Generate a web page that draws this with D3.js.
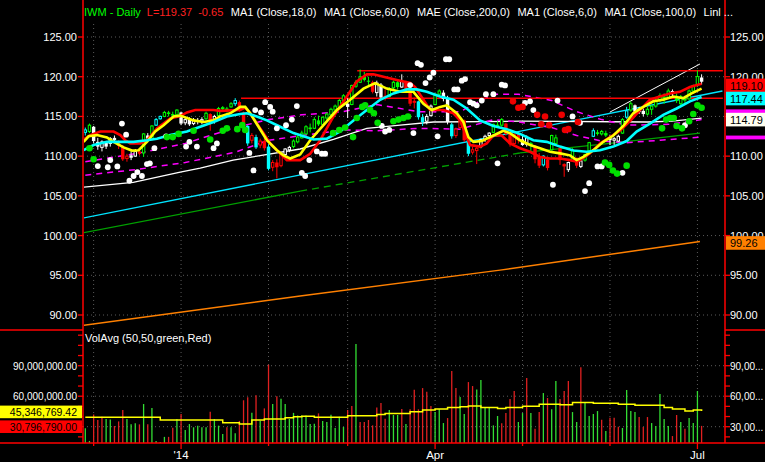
<!DOCTYPE html>
<html>
<head>
<meta charset="utf-8">
<script src="https://cdn.jsdelivr.net/npm/d3@7"></script>
<style>
html, body { margin: 0; padding: 0; background: #000; }
svg { display: block; font-family: "Liberation Sans", Arial, sans-serif; }
</style>
</head>
<body>
<svg id="chart" width="765" height="462"></svg>
<script>
// IWM daily, 27 Nov 2013 .. 2 Jul 2014 (bar index 0..148)
const opens = [
  113.0,113.1,113.7,111.8,111.1,111.7,111.6,112.3,111.9,111.2,
  109.7,110.1,110.0,110.6,110.4,112.6,112.1,113.9,114.7,115.0,
  115.5,115.3,115.2,115.5,114.2,114.6,114.1,114.5,114.4,114.7,
  115.3,114.4,115.1,116.0,116.0,116.2,116.6,116.8,115.5,113.8,
  112.0,112.4,111.4,111.9,111.2,108.6,109.2,108.8,110.2,110.8,
  111.2,111.8,112.3,112.8,113.6,113.5,114.5,114.0,114.8,115.2,
  115.8,116.2,117.0,116.6,116.5,118.8,119.3,120.0,119.5,119.3,
  118.0,119.0,117.6,117.5,118.6,119.3,118.7,119.4,118.3,116.8,
  116.9,114.9,114.4,115.1,116.5,117.8,118.0,117.3,114.0,112.6,
  113.6,114.5,112.0,110.5,110.7,111.2,112.1,112.6,113.0,113.9,
  113.9,114.1,112.8,111.6,112.8,112.1,111.5,111.4,111.3,109.9,
  108.9,109.6,110.8,111.6,111.0,109.0,108.3,109.5,109.8,108.7,
  109.5,110.6,112.5,113.0,112.8,112.9,112.3,112.0,111.9,112.9,
  114.9,115.8,116.4,115.6,115.7,115.3,115.9,116.3,117.0,117.5,
  117.3,118.2,117.6,116.6,117.3,117.2,118.2,119.0,119.9
]
const highs = [
  113.6,114.1,113.8,112.3,112.0,111.9,112.4,112.6,112.0,111.4,
  110.3,110.6,110.9,110.9,112.9,112.9,113.9,114.8,115.1,115.7,
  115.7,115.6,115.9,115.6,114.9,114.9,114.8,114.8,114.9,115.6,
  115.4,115.2,116.2,116.3,116.2,116.8,117.3,117.0,115.6,113.9,
  112.9,112.7,112.2,112.3,111.5,109.5,109.6,110.3,111.0,111.3,
  112.1,112.6,113.2,113.9,114.1,114.9,115.1,115.0,115.5,116.1,
  116.5,117.2,117.8,117.3,119.0,119.6,120.9,120.6,120.0,119.5,
  119.5,119.2,118.4,118.7,119.5,119.6,120.3,119.5,118.5,117.4,
  117.0,115.3,115.3,116.5,117.9,118.4,118.3,117.6,114.2,113.6,
  114.8,114.6,112.3,111.2,111.3,112.2,112.7,113.0,114.1,114.4,
  114.8,114.2,113.0,112.9,112.9,112.7,112.6,111.8,111.4,110.4,
  110.1,109.9,112.7,112.7,111.1,109.1,109.3,111.0,109.8,109.6,
  110.3,111.8,113.5,113.3,113.3,113.2,112.7,112.4,112.7,114.8,
  116.2,116.9,116.5,116.2,116.0,116.2,116.4,117.2,117.9,117.9,
  118.5,118.4,117.9,117.7,117.6,118.4,119.0,120.8,120.3
]
const lows = [
  112.6,112.9,111.6,110.8,110.6,110.9,111.2,111.8,110.9,109.4,
  109.3,109.5,109.9,110.1,109.9,111.9,112.0,113.8,114.6,114.9,
  115.0,114.9,115.0,113.9,113.9,113.8,113.9,114.0,114.0,114.6,
  113.2,114.1,115.0,115.6,115.5,116.1,116.3,115.6,113.4,111.3,
  111.6,110.9,111.0,110.7,108.2,108.1,107.2,108.6,110.0,110.5,
  111.0,111.6,112.2,112.7,113.0,113.4,113.8,113.9,114.5,115.0,
  115.6,116.0,116.6,114.8,116.4,118.6,119.2,119.4,118.9,117.9,
  117.5,117.2,117.0,117.4,118.3,118.4,118.6,118.2,116.3,116.0,
  114.6,113.8,114.0,115.0,116.4,117.5,116.9,114.0,112.2,112.3,
  113.4,111.8,110.0,110.2,109.0,111.0,111.8,112.2,112.9,113.6,
  113.7,112.6,111.2,111.5,111.6,111.3,111.2,110.6,109.1,108.5,
  108.7,108.2,110.7,111.4,108.9,107.4,108.0,109.4,108.5,108.5,
  109.3,110.5,112.4,112.6,112.6,112.4,111.4,111.4,111.8,112.8,
  114.7,115.6,115.2,115.3,115.0,115.1,115.2,116.1,116.8,116.6,
  117.2,117.5,116.7,116.2,116.6,117.1,117.9,118.7,119.0
]
const closes = [
  113.3,113.9,111.9,111.2,111.8,111.2,112.2,112.0,111.3,109.6,
  110.0,109.8,110.6,110.3,112.8,112.2,113.8,114.6,115.0,115.5,
  115.3,115.1,115.8,114.1,114.6,114.0,114.5,114.3,114.6,115.4,
  114.3,115.0,116.0,116.1,115.8,116.6,117.0,115.7,113.6,111.6,
  112.6,111.1,111.9,111.0,108.4,109.2,108.6,110.2,110.9,111.1,
  111.9,112.4,112.9,113.7,113.4,114.6,114.0,114.9,115.3,115.9,
  116.3,117.0,117.6,116.2,118.9,119.3,120.0,119.6,119.4,118.1,
  119.2,117.4,117.3,118.5,119.3,118.7,119.4,118.4,116.6,116.9,
  114.9,114.3,115.0,116.3,117.8,118.2,117.2,114.3,112.5,113.4,
  114.6,112.0,110.3,110.8,111.0,112.1,112.5,112.9,114.0,113.9,
  114.6,112.8,111.5,112.7,112.0,111.4,112.3,111.6,109.6,108.8,
  110.0,108.5,112.6,112.3,109.5,108.7,109.2,110.8,108.8,109.4,
  110.2,111.7,113.2,112.8,113.1,112.6,112.0,112.2,112.5,114.6,
  115.7,116.6,115.6,115.9,115.3,115.9,116.3,117.0,117.6,117.2,
  118.2,117.8,117.0,117.5,117.0,118.2,118.9,120.02,119.37
]
// G green, R red, W white, C cyan
const candleColors = "CGWWWWWWRR" + "RWWRGWGCCG" + "GGGWWWWWWG" + "RWGGGGCRRC" +
  "RCRRCRRRWW" + "GGGGGGGGGG" + "GGGWGGGGGR" + "WWRGGGWRRR" + "CCWWGGWWCR" +
  "RRCRRWWWGG" + "GRRRRWWGRR" + "CRGGRRWGRW" + "GGCGGGWWWG" + "CGWWWGGGGG" + "GWGGGGGGW"

// volume, millions of shares
const volumes = [
  28.4,16,42,36.6,39.8,37.5,37.2,30.7,35.2,46.4,
  37.5,32.3,33.3,32.3,52.3,32.3,48.4,16,15,20,
  20,29,37.5,42.5,26.7,32.6,29.4,31,29.4,29.4,
  44.6,37.5,31,22.9,29.4,29.4,23.6,35.7,56,59,
  43.6,61,35.9,48,91,52.3,60,57.4,52.3,37.5,
  43.6,41,41.1,41.1,32.6,33,43.1,35.6,34.6,41.8,
  28.7,39.8,29.7,46.4,50.3,111.3,34.6,34.6,36.6,31.3,
  49,53.3,37.9,46.4,41.5,41.5,47.4,32.6,47.1,66.4,
  47.1,68,64.4,50.3,44.4,47.4,33.6,38.5,84.8,68,
  59.2,42.5,73.9,70,66.7,75.9,49,49,31.3,40.5,
  33.3,43.4,57.2,65.1,34.6,43.4,77.9,43.4,28,44.4,
  63.1,58.2,47.1,74.9,57.2,65.1,74.9,44.4,34.6,88.4,
  54.3,40.5,42.5,45.4,36.9,25.7,38.9,38.9,30,28.7,
  66.1,45.4,44.4,39.5,29.7,39.5,33.6,30.7,62.1,37.5,
  30.7,20.8,41.5,34.6,28,38.5,33.6,65.1,30.79679
]
const volumeColors = "GGRRRGGRRR" + "GGGRGRGGGG" + "RRGRGGGGGG" + "RGGGRGGRRR" +
  "GRGRRGRGGG" + "GGGGGGRGGG" + "GGGRRGRRRR" + "RRRGGGRGRR" + "RRRRGGGRRR" +
  "GGRRGGGGGG" + "RRRRGGRGRR" + "GRGGRRRGGR" + "GGGGRGRRRG" + "GGGRRRGGGG" + "GRRGRGGGR"

// 50 day volume average, read as steps [bar, millions]
const volAvg = [[0,39.2],[18,36.6],[33,34],[37,32.6],[40,36.6],[43,37.5],[48,38.9],[50,39.8],
  [52,40.2],[55,39.2],[63,40.8],[70,42.1],[72,43.1],[78,44.8],[81,46.4],[84,47.4],[87,49],
  [90,49.7],[92,50.3],[95,49],[99,48],[101,49],[105,50],[109,52],[114,51.6],[117,53.9],
  [122,53],[128,52],[132,51],[139,49],[141,47.4],[144,45.4],[146,46.4],[148,45.35]]

// overlay lines, [bar, price]
const redMA = [[-0.4,112.1],[1.2,112.65],[3.6,113.1],[6.8,113.1],[8.4,112.65],[9.6,112.0],[10.8,111.6],
  [13.2,111.6],[14.8,112.0],[17.2,113.5],[20.4,114.75],[22.8,115.05],[24.4,115.5],[26.4,115.8],
  [30.8,115.8],[32.4,115.7],[37.2,115.8],[38.4,116.1],[39.6,115.4],[41.2,114.1],[42.8,112.9],
  [44.4,111.6],[46.8,110.35],[48.4,109.5],[51.6,109.5],[54,110.3],[56.4,112.0],[59.6,115.0],
  [62.8,117.5],[65.2,119.4],[67.6,120.3],[69.2,120.3],[71.6,120.0],[74.8,119.6],[78,119.2],
  [79.2,118.7],[81.2,117.1],[82.8,115.8],[86,115.8],[88.4,115.4],[90,114.5],[91.6,112.4],
  [92.4,111.4],[94.8,111.2],[96.4,111.6],[98,112.6],[100,112.6],[102,111.6],[104.4,111.0],
  [106.8,110.55],[109.2,109.9],[111.6,109.7],[114,109.7],[116.4,109.5],[118,109.3],[118.8,109.5],
  [121.2,110.35],[123.6,111.6],[126,112.4],[128.4,113.2],[130.8,114.4],[133.2,115.8],[135.6,117.1],
  [138,117.5],[140.4,117.9],[142.8,118.1],[145.2,118.7],[148,119.1]]
const yellowMA = [[-0.4,111.8],[0.8,112.5],[2.8,112.65],[5.2,112.35],[6.8,111.8],[9.2,111.1],[11.2,110.7],
  [12.8,110.75],[14.8,111.8],[16.8,113.1],[18.8,113.9],[21.2,115.0],[22.8,115.1],[26,114.5],
  [28.4,114.3],[30.8,114.5],[32.4,115.0],[34.8,115.4],[37.2,116.2],[38.4,116.2],[39.6,115.4],
  [41.6,113.7],[43.6,112.0],[46,110.75],[47.6,110.1],[49.2,109.7],[51.6,110.2],[54,112.0],
  [57.2,113.9],[60.4,115.8],[63.6,117.1],[66.8,118.5],[69.6,119.2],[72.4,118.5],[75.6,118.1],
  [78.8,118.1],[81.2,116.6],[83.2,115.8],[85.2,116.2],[86.8,116.4],[89.2,115.4],[90.8,114.3],
  [92,112.4],[93.2,111.8],[95.2,111.9],[98,112.6],[100.4,113.2],[102,112.9],[104.4,112.0],
  [106.8,111.4],[109.2,111.0],[111.6,110.55],[114,110.35],[116.4,110.1],[118,109.5],[119.6,109.9],
  [122,110.75],[124.4,111.8],[126.8,112.6],[129.2,113.8],[131.6,115.4],[134,116.2],[136.4,116.9],
  [138.8,117.1],[141.2,117.5],[143.6,117.3],[145.6,117.9],[148,118.5]]
const cyanMA = [[-0.4,110.75],[2,111.4],[5.2,111.8],[8.4,111.8],[11.6,111.8],[14.8,112.0],[17.2,112.2],
  [20.4,112.65],[24.4,113.1],[27.6,113.7],[30.8,114.3],[34,115.0],[37.2,115.3],[38.8,115.4],
  [41.2,115.0],[43.6,114.5],[46.8,113.7],[50,112.9],[54.8,112.1],[58,112.2],[61.2,113.1],
  [64.4,114.5],[67.6,115.8],[70.8,117.1],[74,117.9],[77.2,118.4],[79.6,118.4],[82,118.1],
  [85.2,117.5],[88.4,117.1],[91.6,116.0],[94.8,114.5],[98,113.8],[101.2,113.4],[104.4,112.8],
  [107.6,112.0],[110.8,111.8],[114,111.2],[117.2,110.7],[120.4,110.55],[123.6,110.75],[126.8,111.2],
  [130,111.9],[132.4,113.1],[135.6,114.1],[138.8,115.2],[142,116.0],[145.2,116.9],[148,117.44]]
const whiteMA = [[-0.5,106.1],[11.5,106.7],[22.8,108.0],[27.6,108.5],[35.5,109.5],[51.6,110.9],
  [59.6,112.1],[67.6,113.5],[75.6,113.9],[83.6,114.3],[104.4,114.4],[135,114.3],[141,114.4],[148,114.79]]
const greenMA = [[-0.5,100.35],[51.6,105.6],[104.4,110.4],[126,111.6],[147.6,112.9]]
const orangeMA = [[-0.5,88.7],[51.6,92.4],[99.6,95.65],[147.6,99.26]]
const regLine = [[-0.5,102.2],[153,118.2]]
const envUpper = [[0,109.3],[12,110.3],[24,111.6],[36,113.6],[44,114.6],[52,115.2],[62,115.6],[70,116.5],
  [80,115.6],[90,115.6],[98,117.8],[104,117.8],[112,117.0],[118,115.6],[124,114.6],[130,113.9],
  [140,114.0],[148,114.6]]
const envLower = [[0,107.6],[12,108.3],[24,109.2],[36,110.5],[44,112.0],[52,112.6],[62,113.3],[70,113.2],
  [80,113.5],[90,113.4],[98,114.6],[104,114.3],[112,113.6],[118,112.6],[124,111.9],[130,111.7],
  [138,112.0],[148,112.4]]
const channelTop = [[126,115.55],[147.6,121.6]]
const resistance = [{from: 65.3, to: 153.1, price: 120.76}, {from: 37.4, to: 153.1, price: 117.28}]

const whiteDots = [[3,108.75],[5.4,108.6],[6,109.5],[7.7,108.7],[8.8,114.1],[9.8,112.7],[10.6,106.9],
  [11.6,107.5],[12.5,108],[13.6,107.5],[14.8,109],[15.5,109.1],[16.6,111],[19.4,112.5],[24.2,111.2],
  [25,111.8],[26.8,111.2],[30.8,111],[31.6,111.6],[39.4,110.4],[40.4,108.2],[40.8,115.8],[42.2,115.5],
  [43.2,116.8],[44.4,116.2],[45,115.6],[46,113.5],[48.2,113.9],[49.6,114.6],[50.8,116.3],
  [52,107.9],[52.8,107.5],[53.8,109.5],[55.6,110.6],[56.8,110.3],[57.6,110.3],[71.2,113.8],[72,113.1],
  [73,113.3],[78,118.95],[78.8,112.9],[79.8,121.7],[80.6,121.5],[81.7,119.2],[82.7,119.9],[83.6,120.5],
  [84.6,112.5],[86.6,122.2],[87.4,122.2],[88.6,118.4],[89.4,118.4],[90.4,119.5],[91.2,119.7],
  [92.4,116.8],[93.2,116.6],[94,116.4],[95.2,117],[96.2,117.8],[98,117.8],[99,109.1],[100,119],
  [100.8,118.9],[105.6,116.7],[106.8,116.9],[107.6,115.8],[112.3,106.4],[113.4,117],[117,115],
  [118.8,114.2],[120,105.6],[121,106.6],[123,108.7],[124,108.7],[129,107.9],[144,113.9]]
const greenDots = [[1,111],[2,109.6],[19.6,112.4],[21,112.4],[22.4,112.8],[26,113.2],[30,112.1],
  [33,113.2],[34,113.5],[36.5,113.4],[37.7,113.9],[38.4,113.3],[59.5,112.9],[61,113.3],[62.4,113.6],
  [64.3,112.4],[65.2,114.8],[66.5,116.2],[67.2,116.4],[68.4,115.8],[69.3,115.4],[70.2,114.2],[74,114.4],
  [75.2,114.6],[76.4,114.8],[77.5,115],[124.8,109.2],[125.8,108.9],[126.7,108.2],[127.7,107.8],
  [130,108.8],[138.5,113.5],[139.5,114.6],[140.5,114.8],[141.3,114.8],[142,113.8],[143.3,113.5],
  [145,114.4],[146,115.3],[147,116.4],[148,116.1]]
const redDots = [[102.7,116.9],[104,116.1],[105,116.2],[108.5,115.2],[109.5,114],[110.4,115],
  [111.4,113.9],[114.4,115.2],[115.2,113.3],[116,113.4],[118.3,114.3]]

const priceTicks = [90, 95, 100, 105, 110, 115, 120, 125]
const rightPriceLabels = [90, 95, 100, 105, 110, 120, 125]
const volTicks = [30, 60, 90]
const leftVolLabels = [60, 90]
const volMinor = [20, 30, 40, 50, 60, 70, 80, 90, 100, 110, 120]
const monthBars = [2, 23, 44, 63, 84, 105, 126, 147]
const monthLabels = ["", "'14", "", "", "Apr", "", "", "Jul"]

const legend = [
  {text: "IWM - Daily", color: "#00ff00"},
  {text: "L=119.37", color: "#ff2020"},
  {text: "-0.65", color: "#ff2020"},
  {text: "MA1 (Close,18,0)", color: "#fff"},
  {text: "MA1 (Close,60,0)", color: "#fff"},
  {text: "MAE (Close,200,0)", color: "#fff"},
  {text: "MA1 (Close,6,0)", color: "#fff"},
  {text: "MA1 (Close,100,0)", color: "#fff"},
  {text: "Linl ...", color: "#fff"}
]
const rightTags = [
  {value: 119.10, fill: "#ff0000"},
  {value: 117.44, fill: "#00ffff"},
  {value: 114.79, fill: "#fffff0"},
  {value: 99.26, fill: "#ff8000"}
]
const envTags = [115.7, 112.4]
const leftVolTags = [
  {value: 45.34676942, fill: "#ffff00"},
  {value: 30.79679, fill: "#ff0000"}
]

const candleFill = {G: "#00ff00", R: "#ff0000", W: "#ffffff", C: "#00ffff"}
const volFill = {G: "#33dd33", R: "#e02020"}

const svg = d3.select("#chart")
const L = 83, R = 725, SEP = 330, BOT = 443

const x = d3.scaleLinear().domain([0, 148]).range([85.3, 701.6])
const y = d3.scaleLinear().domain([90, 125]).range([315, 37])
const yv = d3.scaleLinear().domain([30, 90]).range([426.7, 365.7])

svg.append("rect").attr("width", 765).attr("height", 462).attr("fill", "#000")

const defs = svg.append("defs")
defs.append("clipPath").attr("id", "clipP").append("rect")
    .attr("x", L + 1).attr("y", 0).attr("width", R - L - 1).attr("height", SEP)
defs.append("clipPath").attr("id", "clipV").append("rect")
    .attr("x", L + 1).attr("y", SEP).attr("width", R - L - 1).attr("height", BOT - SEP)

// dotted grid
const grid = svg.append("g").attr("stroke", "#5a5a5a").attr("stroke-dasharray", "1,3")
grid.selectAll("line.h")
    .data(priceTicks)
    .join("line")
    .attr("x1", L).attr("x2", R)
    .attr("y1", d => y(d)).attr("y2", d => y(d))
grid.selectAll("line.hv")
    .data(volTicks)
    .join("line")
    .attr("x1", L).attr("x2", R)
    .attr("y1", d => yv(d)).attr("y2", d => yv(d))
grid.selectAll("line.v")
    .data(monthBars)
    .join("line")
    .attr("x1", d => x(d)).attr("x2", d => x(d))
    .attr("y1", 24).attr("y2", BOT)

const price = svg.append("g").attr("clip-path", "url(#clipP)")
const line = d3.line().x(d => x(d[0])).y(d => y(d[1]))

function drawLine(g, pts, color, width, dash) {
    g.append("path")
        .attr("d", line(pts))
        .attr("fill", "none")
        .attr("stroke", color)
        .attr("stroke-width", width)
        .attr("stroke-dasharray", dash || null)
}

drawLine(price, orangeMA, "#ff8000", 1.5)
drawLine(price, greenMA.slice(0, 2), "#00a000", 1.3)
drawLine(price, greenMA.slice(1, 3), "#00a000", 1.3, "7,5")
drawLine(price, greenMA.slice(2), "#00a000", 1.3)
drawLine(price, regLine, "#00e5ff", 1.3)
drawLine(price, whiteMA, "#ffffff", 1.3)
drawLine(price, envUpper, "#ff00ff", 1.5, "6,5")
drawLine(price, envLower, "#ff00ff", 1.5, "6,5")
drawLine(price, channelTop, "#ffffff", 1)

price.selectAll("line.res")
    .data(resistance)
    .join("line")
    .attr("x1", d => x(d.from)).attr("x2", d => x(d.to))
    .attr("y1", d => y(d.price)).attr("y2", d => y(d.price))
    .attr("stroke", "#ff0000").attr("stroke-width", 1.5)

// candles
const bars = d3.range(closes.length)
price.selectAll("line.wick")
    .data(bars)
    .join("line")
    .attr("x1", i => x(i)).attr("x2", i => x(i))
    .attr("y1", i => y(highs[i])).attr("y2", i => y(lows[i]))
    .attr("stroke", i => candleFill[candleColors[i]])
    .attr("stroke-width", 1)
price.selectAll("rect.body")
    .data(bars)
    .join("rect")
    .attr("x", i => x(i) - (closes[i] >= opens[i] ? 1.2 : 1.7))
    .attr("width", i => closes[i] >= opens[i] ? 2.4 : 3.4)
    .attr("y", i => y(Math.max(opens[i], closes[i])))
    .attr("height", i => Math.max(1, Math.abs(y(opens[i]) - y(closes[i]))))
    .attr("fill", i => closes[i] >= opens[i] ? "#000" : candleFill[candleColors[i]])
    .attr("stroke", i => closes[i] >= opens[i] ? candleFill[candleColors[i]] : "none")
    .attr("stroke-width", 1)

drawLine(price, redMA, "#ff0000", 2.6)
drawLine(price, yellowMA, "#ffff00", 2.6)
drawLine(price, cyanMA, "#00ffff", 2.6)

price.selectAll("circle.w").data(whiteDots).join("circle")
    .attr("cx", d => x(d[0])).attr("cy", d => y(d[1])).attr("r", 2.9).attr("fill", "#ffffff")
price.selectAll("circle.g").data(greenDots).join("circle")
    .attr("cx", d => x(d[0])).attr("cy", d => y(d[1])).attr("r", 3.3).attr("fill", "#00e000")
price.selectAll("circle.r").data(redDots).join("circle")
    .attr("cx", d => x(d[0])).attr("cy", d => y(d[1])).attr("r", 3.3).attr("fill", "#ee0000")

// volume panel
const vol = svg.append("g").attr("clip-path", "url(#clipV)")
vol.selectAll("line.vol")
    .data(bars)
    .join("line")
    .attr("x1", i => x(i)).attr("x2", i => x(i))
    .attr("y1", i => yv(volumes[i])).attr("y2", BOT)
    .attr("stroke", i => volFill[volumeColors[i]])
    .attr("stroke-width", 1.3)
vol.append("path")
    .attr("d", d3.line().curve(d3.curveStepAfter).x(d => x(d[0])).y(d => yv(d[1]))(volAvg))
    .attr("fill", "none").attr("stroke", "#ffff00").attr("stroke-width", 1.5)

svg.append("text").attr("x", 85).attr("y", 342)
    .attr("fill", "#fff").attr("font-size", 11)
    .text("VolAvg (50,50,green,Red)")

// frame
const frame = svg.append("g").attr("stroke", "#ff0000").attr("stroke-width", 1.5)
frame.append("line").attr("x1", L).attr("x2", L).attr("y1", 0).attr("y2", BOT)
frame.append("line").attr("x1", R).attr("x2", R).attr("y1", 0).attr("y2", BOT)
frame.append("line").attr("x1", 0).attr("x2", L).attr("y1", SEP).attr("y2", SEP)
frame.append("line").attr("x1", R).attr("x2", 765).attr("y1", SEP).attr("y2", SEP)
frame.append("line").attr("x1", 0).attr("x2", 765).attr("y1", BOT).attr("y2", BOT)

// axes ticks
const fmtP = d3.format(".2f")
const ticks = svg.append("g").attr("stroke", "#ff0000").attr("stroke-width", 1.3)
priceTicks.forEach(p => {
    ticks.append("line").attr("x1", L - 5).attr("x2", L).attr("y1", y(p)).attr("y2", y(p))
    ticks.append("line").attr("x1", R).attr("x2", R + 5).attr("y1", y(p)).attr("y2", y(p))
})
volMinor.forEach(v => {
    ticks.append("line").attr("x1", L - 5).attr("x2", L).attr("y1", yv(v)).attr("y2", yv(v))
    ticks.append("line").attr("x1", R).attr("x2", R + 5).attr("y1", yv(v)).attr("y2", yv(v))
})
monthBars.forEach((b, k) => {
    ticks.append("line").attr("x1", x(b)).attr("x2", x(b))
        .attr("y1", BOT).attr("y2", BOT + (monthLabels[k] ? 6 : 3))
})

svg.selectAll("text.pl")
    .data(priceTicks)
    .join("text")
    .attr("x", L - 6).attr("y", d => y(d) + 4)
    .attr("text-anchor", "end").attr("fill", "#fff").attr("font-size", 11)
    .text(d => fmtP(d))
svg.selectAll("text.pr")
    .data(rightPriceLabels)
    .join("text")
    .attr("x", R + 5).attr("y", d => y(d) + 4)
    .attr("fill", "#fff").attr("font-size", 11)
    .text(d => fmtP(d))

const fmtV = d3.format(",.2f")
svg.selectAll("text.vl")
    .data(leftVolLabels)
    .join("text")
    .attr("x", L - 6).attr("y", d => yv(d) + 4)
    .attr("text-anchor", "end").attr("fill", "#fff").attr("font-size", 10)
    .text(d => fmtV(d * 1e6))
svg.selectAll("text.vr")
    .data(volTicks)
    .join("text")
    .attr("x", R + 5).attr("y", d => yv(d) + 4)
    .attr("fill", "#fff").attr("font-size", 10)
    .text(d => d3.format(",")(d * 1e6).slice(0, 5) + "...")

// value tags on the right
envTags.forEach(v => {
    svg.append("rect").attr("x", R + 1).attr("y", y(v) - 1.5).attr("width", 40).attr("height", 3.8)
        .attr("fill", "#ff00ff")
})
rightTags.forEach(t => {
    const cy = y(t.value) + 1.5
    svg.append("rect").attr("x", R + 1).attr("y", cy - 6.8).attr("width", 40).attr("height", 13.6)
        .attr("fill", t.fill)
    svg.append("text").attr("x", R + 5).attr("y", cy + 4.2)
        .attr("fill", "#000").attr("font-size", 11).text(fmtP(t.value))
})

// value tags on the left (volume)
leftVolTags.forEach(t => {
    const cy = yv(t.value) + 0.8
    svg.append("rect").attr("x", 0).attr("y", cy - 6.3).attr("width", L - 1).attr("height", 12.6)
        .attr("fill", t.fill)
    svg.append("text").attr("x", L - 6).attr("y", cy + 4)
        .attr("text-anchor", "end").attr("fill", "#000").attr("font-size", 10.5)
        .text(fmtV(t.value * 1e6))
})

// month labels
svg.selectAll("text.m")
    .data(monthBars.map((b, k) => ({b: b, label: monthLabels[k]})).filter(d => d.label))
    .join("text")
    .attr("x", d => x(d.b)).attr("y", 459)
    .attr("text-anchor", "middle").attr("fill", "#fff").attr("font-size", 11.5)
    .text(d => d.label)

// legend line
let lx = 84
legend.forEach((item, k) => {
    const t = svg.append("text").attr("x", lx).attr("y", 16)
        .attr("fill", item.color).attr("font-size", 11).text(item.text)
    lx += t.node().getComputedTextLength() + (k < 2 ? 6 : 7.5)
})
</script>
</body>
</html>
